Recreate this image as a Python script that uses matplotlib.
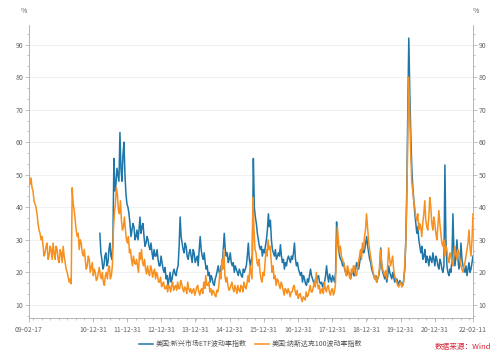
import matplotlib
matplotlib.use("Agg")
import matplotlib.pyplot as plt
import matplotlib.dates as mdates
from matplotlib.ticker import MultipleLocator, AutoMinorLocator
import pandas as pd

plt.rcParams['font.family'] = ['Noto Sans CJK SC', 'DejaVu Sans']

# at about one value per pixel column
vxn_start, vxn_end = '2009-02-17', '2022-02-11'
vxeem_start, vxeem_end = '2011-03-16', '2022-02-11'

# 美国:纳斯达克100波动率指数 (VXN)
vxn = [
    50, 47, 49, 46, 45, 42, 41, 40, 38, 35, 33, 32, 30, 31, 28, 25, 26, 28, 29, 24,
    25, 28, 27, 24, 29, 26, 24, 28, 27, 24, 23, 27, 26, 23, 28, 25, 23, 21, 20, 18.5,
    17, 18, 16.5, 46, 41, 39, 36, 33, 31, 32, 27, 30, 29, 26, 25, 27, 24, 21, 22, 25,
    24, 20, 21.5, 23, 19, 21, 20, 17.5, 18, 20, 21.5, 19, 18, 20, 17, 16, 19, 20, 18, 21,
    22, 18, 19, 22, 33, 38, 41, 46, 44, 39, 38, 42, 36, 33, 34, 37, 33, 30, 29, 31,
    26, 27, 24, 22, 25, 23, 22.5, 24, 22, 20, 26, 24, 27, 23, 22, 24, 21, 19.5, 22, 20,
    19, 22, 21, 18.5, 20, 21, 18, 20, 19, 17, 17, 18.5, 15.6, 16.5, 17, 15, 15, 16, 14, 16,
    15.5, 14, 16, 17, 14.5, 15.5, 16, 14.5, 17, 15, 15, 17.5, 16.5, 15, 14, 15.5, 15, 13.5, 17, 15,
    14, 15, 13.5, 14.5, 15, 13, 14, 15.5, 16, 14, 13, 14.5, 15, 13.5, 17, 15, 19, 16, 16, 17,
    14, 15, 13, 14.5, 14, 13, 12.5, 14.5, 14, 16, 20, 18, 24, 21, 27, 19, 17, 18.5, 16, 14.5,
    15, 16, 17, 15, 14, 16, 15, 13.5, 16, 14.5, 14, 16, 15.5, 14, 17, 15.5, 15, 16.5, 19, 17,
    22, 20, 18, 43, 33, 27, 26, 23, 22, 24, 20, 18, 17, 20, 19, 23, 27, 25, 30, 27,
    28, 24, 20, 22, 18, 19, 16, 18, 17.5, 16, 15, 17, 16, 14.5, 13, 15, 14.5, 13.5, 15, 14,
    12.5, 14, 14, 15.5, 16, 14, 13, 14.5, 12, 13, 13.5, 12, 11, 12.5, 12, 11.5, 14, 12.5, 13, 14.5,
    16, 14, 14, 15.5, 17, 15.5, 20, 17, 15, 16, 13.5, 14.5, 15, 13.5, 17, 15, 14, 15.5, 16, 14,
    13, 14.5, 15, 13, 14, 16, 27, 34, 30, 26, 28, 25, 24, 23, 22, 20, 19, 22, 21, 18.5,
    18, 21, 20, 22, 22, 19, 19, 21, 23, 25, 27, 24, 29, 27, 31, 33, 38, 34, 30, 27,
    25, 23, 21, 19.5, 18, 19, 17, 18, 19, 22, 27, 23, 21, 20, 19, 20.5, 18, 22, 27.5, 24,
    22, 23.5, 25, 21, 19, 18, 17, 16, 15.5, 16.5, 17, 15.5, 16, 17, 22, 28, 40, 60, 80, 68,
    57, 48, 45, 42, 40, 37, 36, 38, 33, 35, 34, 31, 35, 38, 42, 36, 34, 33, 37, 43,
    40, 35, 33, 37, 35, 32, 30, 34, 39, 35, 32, 29, 28, 30, 25, 28, 27, 24, 23, 26,
    25, 23, 22, 25, 28, 26, 24, 27, 26, 24, 22, 21, 20, 22, 23, 25, 27, 29, 33, 28,
    25, 30, 38,
]

# 美国:新兴市场ETF波动率指数 (VXEEM)
vxeem = [
    32, 26, 24, 21, 22, 25, 26, 22, 23, 27, 29, 25, 24, 30, 55, 45, 47, 52, 50, 48,
    63, 52, 48, 56, 60, 50, 44, 41, 40, 38, 35, 31, 33, 35, 34, 30, 31, 33, 30, 33,
    37, 32, 34, 35, 31, 28, 29, 31, 30, 28, 27, 29, 26, 24, 27, 25, 25, 27, 24, 22,
    22, 25, 23, 21, 20, 21.5, 18, 19, 16, 18, 20, 17, 18, 20, 21, 19.5, 19, 21, 22, 28,
    37, 31, 29, 27, 26, 29, 28, 25, 24, 26, 27, 25, 23, 27, 26, 23, 24, 25, 22, 27,
    31, 27, 25, 24, 26, 23, 21, 22, 19, 20, 17, 19, 18, 16.5, 16, 18, 19, 20.5, 22, 20,
    19, 22, 21, 27, 32, 27, 25, 26, 23, 24, 26, 23, 22, 23, 20, 22, 21, 20, 19, 21,
    20, 19, 18.5, 21, 20, 21, 22, 25, 29, 24, 22, 24, 25, 55, 40, 37, 35, 32, 30, 28,
    27, 28, 25, 27, 26, 28, 30, 33, 38, 34, 36, 30, 27, 26, 25, 27, 24, 25, 26, 25,
    28.5, 25, 23, 24, 21, 23, 22, 24, 25, 24, 23, 25, 24, 26, 29, 24, 22, 23, 21, 20,
    19, 20, 17, 19, 18, 16.5, 16, 18, 17, 19, 21, 19, 18, 17, 16, 18, 17, 18.5, 19, 17,
    16.5, 17, 15.5, 16.5, 17, 19, 22, 19, 17, 19.5, 18, 17, 19, 18, 17, 20, 35.5, 30, 27, 25,
    24, 23.5, 22, 23, 21, 20, 19, 21, 20, 19.5, 18, 20, 21, 19, 19, 21, 23, 22, 21, 23,
    25, 26, 28, 26, 27, 29, 31, 28, 26, 24, 23, 21, 20, 19, 18, 19, 17, 18, 19, 21,
    27.5, 22, 20, 19, 18, 19.5, 17, 19, 22, 20, 19, 18, 20, 18.5, 17, 18, 18, 17, 16, 17.5,
    17, 16.5, 16, 18, 21, 30, 45, 70, 92, 75, 62, 52, 46, 42, 38, 35, 32, 34, 30, 28,
    26, 28, 24, 25, 27, 23, 25, 24, 22, 25, 24, 23, 26, 24, 22, 25, 24, 22, 21, 24,
    23, 21, 20, 22, 53, 30, 22, 20, 19, 21, 20, 24, 38, 26, 22, 25, 30, 24, 21, 23,
    29, 24, 22, 21, 20, 22, 19, 21, 23, 20, 21, 23, 25,
]

tick_dates = ['2009-02-17', '2010-12-31', '2011-12-31', '2012-12-31', '2013-12-31',
              '2014-12-31', '2015-12-31', '2016-12-31', '2017-12-31', '2018-12-31',
              '2019-12-31', '2020-12-31', '2022-02-11']

label_vxeem = '美国:新兴市场ETF波动率指数'
label_vxn = '美国:纳斯达克100波动率指数'

dates_vxn = pd.date_range(vxn_start, vxn_end, periods=len(vxn))
dates_vxeem = pd.date_range(vxeem_start, vxeem_end, periods=len(vxeem))

blue = '#1f76a8'
orange = '#f7901e'

fig = plt.figure(figsize=(5.0, 3.58), dpi=100)
ax = fig.add_axes([0.058, 0.112, 0.888, 0.818])

ax.plot(dates_vxeem, vxeem, color=blue, lw=1.1, label=label_vxeem)
ax.plot(dates_vxn, vxn, color=orange, lw=1.1, label=label_vxn)

ax.set_xlim(pd.Timestamp(vxn_start), pd.Timestamp(vxn_end))
ax.set_ylim(6, 96)

ax.yaxis.set_major_locator(MultipleLocator(10))
ax.yaxis.set_minor_locator(AutoMinorLocator(3))
ax.grid(axis='y', color='#eeeeee', lw=0.6)
ax.set_axisbelow(True)

ax.set_xticks(pd.to_datetime(tick_dates))
ax.xaxis.set_major_formatter(mdates.DateFormatter('%y-%m-%d'))
ax.xaxis.set_minor_locator(mdates.MonthLocator(bymonth=[1, 4, 7, 10]))

ax.spines['top'].set_visible(False)
for side in ['left', 'right', 'bottom']:
    ax.spines[side].set_color('#aaaaaa')
    ax.spines[side].set_linewidth(0.6)

ax.tick_params(axis='both', which='both', colors='#aaaaaa', labelcolor='#666666',
               labelsize=5, width=0.5)
ax.tick_params(axis='y', which='major', length=3, pad=1)
ax.tick_params(axis='y', which='minor', length=1.5)
ax.tick_params(axis='x', which='major', length=3, pad=3)
ax.tick_params(axis='x', which='minor', length=1.5)
ax.tick_params(axis='y', which='both', right=True, labelright=True)

ax.text(-0.005, 1.04, '%', transform=ax.transAxes, fontsize=5, color='#666666', ha='right')
ax.text(1.0, 1.04, '%', transform=ax.transAxes, fontsize=5, color='#666666', ha='left')

leg = ax.legend(loc='upper center', bbox_to_anchor=(0.5, -0.055), ncol=2, frameon=False,
                fontsize=5, handlelength=2, columnspacing=1.2, handletextpad=0.4)
for t in leg.get_texts():
    t.set_color('#555555')

fig.text(0.87, 0.025, '数据来源：Wind', color='#d6263a', fontsize=5.5, ha='left')

fig.savefig('out.png', dpi=100)
